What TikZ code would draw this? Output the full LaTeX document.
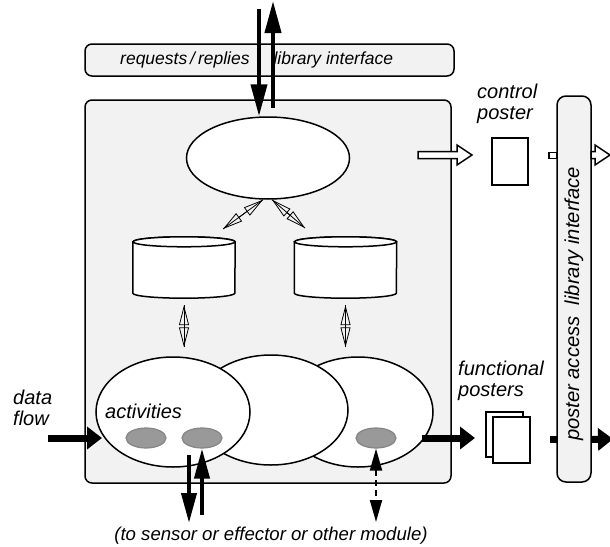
\documentclass[tikz,border=0pt]{standalone}
\usepackage{fontspec}
\setmainfont{Liberation Sans}
\usetikzlibrary{arrows.meta,shapes.geometric}
\definecolor{panelgray}{gray}{0.95}
\definecolor{tokengray}{gray}{0.6}
\definecolor{tokenedge}{gray}{0.52}
\tikzset{
  panel/.style={draw,line width=1.5pt,fill=panelgray,rounded corners=7pt,inner sep=0pt},
  blob/.style={draw,line width=1.5pt,fill=white,ellipse,inner sep=0pt},
  token/.style={draw=tokenedge,line width=1.2pt,fill=tokengray,ellipse,minimum width=40pt,minimum height=20pt,inner sep=0pt},
  store/.style={minimum width=102pt,minimum height=51pt,inner sep=0pt},
  storeline/.style={draw,line width=1.5pt,fill=white},
  sheet/.style={draw,line width=1.5pt,fill=white,inner sep=0pt},
  lbl/.style={font=\itshape\fontsize{20}{21}\selectfont,align=left,inner sep=0pt},
  iflbl/.style={font=\itshape\fontsize{18.6}{21}\selectfont,inner sep=0pt},
  bigarrow/.style={line width=4pt,-{Triangle[length=32pt,width=16pt]}},
  fatarrow/.style={line width=7pt,-{Triangle[length=15pt,width=22pt]}},
  linkarrow/.style={line width=0.8pt,{Triangle[open,length=20pt,width=10pt]}-{Triangle[open,length=20pt,width=10pt]},postaction={draw,-}},
  hollow/.style={draw,line width=1.5pt,fill=white},
}
\begin{document}
\begin{tikzpicture}[x=1pt,y=-1pt]
        \useasboundingbox (0,0) rectangle (610,546);
        %% Boxes
        \node[panel,minimum width=369pt,minimum height=32pt] (rri) at (269.5,60) {};
        \node[iflbl,font=\itshape\fontsize{17.5}{21}\selectfont,anchor=west] (rritxt) at (120,60) {requests\,/\,replies\hspace{24pt}library interface};
        \node[panel,minimum width=366pt,minimum height=383pt] (mod) at (268,291.5) {};
        \node[panel,rounded corners=9pt,minimum width=34pt,minimum height=386pt] (pal) at (574,289) {};
        \node[iflbl,font=\itshape\fontsize{20.2}{21}\selectfont,rotate=90] (paltxt) at (574,304) {poster access\ \ library interface};
        %% Module
        \node[blob,minimum width=163pt,minimum height=82pt] (ctl) at (268,158) {};
        \node[store] (db1) at (184,267.5) {};
        \node[store] (db2) at (345.5,267.5) {};
        \foreach \db in {db1,db2}{
          \draw[storeline] (\db.north west) -- (\db.south west) arc[start angle=180,end angle=0,x radius=51,y radius=5]
            -- (\db.north east) arc[start angle=0,end angle=-180,x radius=51,y radius=5] -- cycle;
          \draw[storeline] (\db.north) ellipse[x radius=51,y radius=5];
        }
        \node[blob,minimum width=150pt,minimum height=110pt] (act3) at (358,412) {};
        \node[blob,minimum width=154pt,minimum height=110pt] (act2) at (271,410) {};
        \node[blob,minimum width=154pt,minimum height=110pt] (act1) at (173,412) {};
        \node[lbl,anchor=west] (acttxt) at (105,411) {activities};
        \node[token] (tok1) at (146,438) {};
        \node[token] (tok2) at (202,438) {};
        \node[token] (tok3) at (376,438) {};
        %% Posters
        \node[lbl,anchor=west] (cptxt) at (477,104) {control\\poster};
        \node[sheet,minimum width=36pt,minimum height=47pt] (cp) at (510,161.5) {};
        \node[lbl,anchor=west] (fptxt) at (458,381) {functional\\posters};
        \node[sheet,minimum width=37pt,minimum height=45pt] (fpb) at (504.5,434.5) {};
        \node[sheet,minimum width=37pt,minimum height=46pt] (fpf) at (511.5,440) {};
        \node[draw,line width=1.2pt,fill=white,minimum width=8pt,minimum height=6pt,inner sep=0pt] (stub1) at (553,155.5) {};
        \node[fill=black,minimum width=7pt,minimum height=7pt,inner sep=0pt] (stub2) at (553.5,439.5) {};
        %% Outside
        \node[lbl,anchor=west] (dftxt) at (13,408) {data\\flow};
        \node[iflbl] (note) at (271,536) {(to sensor or effector or other module)};
        \coordinate (reqin) at (259,9);
        \coordinate (repbase) at (273,108);
        \coordinate (repout) at (273,1);
        \coordinate (dfin) at (48,438);
        \coordinate (dfend) at (102,438);
        \coordinate (outA) at (422,438);
        \coordinate (outB) at (475,438);
        \coordinate (sensA) at (189,455);
        \coordinate (sensB) at (189,523);
        \coordinate (sensin) at (202,515);
        \coordinate (modlink) at (376,522);
        \coordinate (fanL) at (223,229);
        \coordinate (fanR) at (305,228);
        \coordinate (cpA) at (418,155);
        \coordinate (palA) at (591,155);
        \coordinate (palout) at (613,439);
        %% Links
        \draw[linkarrow] ([xshift=-5pt]ctl.south) -- (fanL);
        \draw[linkarrow] ([xshift=4pt]ctl.south) -- (fanR);
        \draw[linkarrow,shorten <=12pt,shorten >=9pt] (db1.south) -- (db1.south |- act1.north);
        \draw[linkarrow,shorten <=12pt,shorten >=9pt] (db2.south) -- (db2.south |- act3.north);
        %% Flows
        \draw[bigarrow] (reqin) -- (reqin |- ctl.north);
        \draw[bigarrow] (repbase) -- (repout);
        \draw[fatarrow] (dfin) -- (dfend);
        \draw[fatarrow] (outA) -- (outB);
        \draw[bigarrow,-{Triangle[length=30pt,width=15pt]}] (sensA) -- (sensB);
        \draw[bigarrow,-{Triangle[length=30pt,width=15pt]}] (sensin) -- (tok2.south);
        \draw[line width=2pt,dash pattern=on 6pt off 4pt,{Triangle[length=22pt,width=12pt]}-{Triangle[length=22pt,width=12pt]}] (tok3.south) -- (modlink);
        \draw[hollow] (cpA) ++(0,-3.5) -- ++(39,0) -- ++(0,-6.5) -- ++(15,10) -- ++(-15,10) -- ++(0,-6.5) -- ++(-39,0) -- cycle;
        \draw[hollow] (palA) ++(0,-3.5) -- ++(4,0) -- ++(0,-6.5) -- ++(15,10) -- ++(-15,10) -- ++(0,-6.5) -- ++(-4,0) -- cycle;
        \draw[fatarrow] (pal.east |- stub2) -- (palout);
    \end{tikzpicture}
\end{document}
